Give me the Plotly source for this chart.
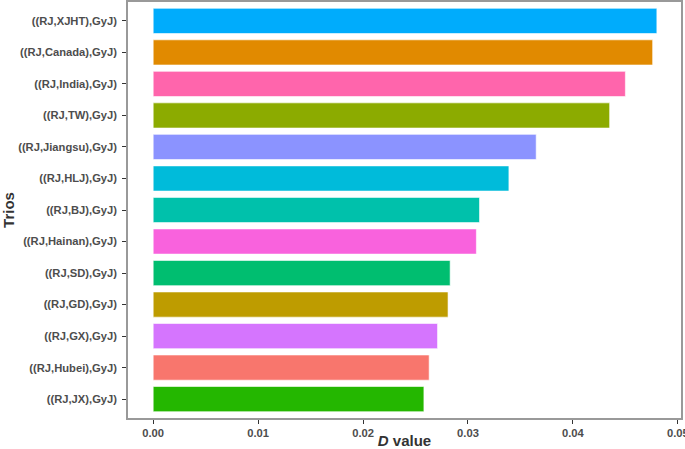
import plotly.graph_objects as go

# trios from bottom to top
trios = ["((RJ,JX),GyJ)", "((RJ,Hubei),GyJ)", "((RJ,GX),GyJ)", "((RJ,GD),GyJ)",
         "((RJ,SD),GyJ)", "((RJ,Hainan),GyJ)", "((RJ,BJ),GyJ)", "((RJ,HLJ),GyJ)",
         "((RJ,Jiangsu),GyJ)", "((RJ,TW),GyJ)", "((RJ,India),GyJ)",
         "((RJ,Canada),GyJ)", "((RJ,XJHT),GyJ)"]
d_value = [0.0258, 0.0263, 0.0271, 0.0281, 0.0283, 0.0308, 0.0311, 0.0339,
           0.0365, 0.0435, 0.0450, 0.0476, 0.0480]
colors = ["#24B700", "#F8766D", "#D575FE", "#BE9C00", "#00BE70", "#F962DD",
          "#00C1AB", "#00BBDA", "#8B93FF", "#8CAB00", "#FF65AC", "#E18A00",
          "#00ACFC"]
x_ticks = [0, 0.01, 0.02, 0.03, 0.04, 0.05]

fig = go.Figure(go.Bar(
    x=d_value, y=trios, orientation="h",
    marker=dict(color=colors, line=dict(color="rgba(255,255,255,0.6)", width=1)),
    width=0.8,
))

tick_font = dict(family="Liberation Sans", size=11.2, color="#4d4d4d")
fig.update_layout(
    width=685, height=449,
    margin=dict(l=128, r=4, t=2, b=31),
    paper_bgcolor="white", plot_bgcolor="white",
    showlegend=False,
    font=dict(family="Liberation Sans"),
)
fig.update_xaxes(
    range=[-0.0024, 0.0503], automargin=False, ticklabeloverflow="allow",
    tickvals=x_ticks, ticktext=["<b>%.2f</b>" % v for v in x_ticks],
    tickfont=tick_font, ticks="outside", ticklen=4, tickcolor="#333",
    showgrid=False, zeroline=False,
    showline=True, linecolor="#999", linewidth=1.5, mirror=True,
    title=dict(text="<b><i>D</i> value</b>", font=dict(size=15, color="#333"), standoff=0),
)
fig.update_yaxes(
    range=[-0.6, 12.6], automargin=False, ticklabelstandoff=3,
    tickvals=trios, ticktext=["<b>%s</b>" % t for t in trios],
    tickfont=tick_font, ticks="outside", ticklen=4, tickcolor="#333",
    showgrid=False, zeroline=False,
    showline=True, linecolor="#999", linewidth=1.5, mirror=True,
    title=dict(text="<b>Trios</b>", font=dict(size=15, color="#333"), standoff=2),
)

# drop the browser's default 8px body margin so the figure fills the window
fig.write_html("out.html", config={"displayModeBar": False},
               post_script="document.body.style.margin='0';")
